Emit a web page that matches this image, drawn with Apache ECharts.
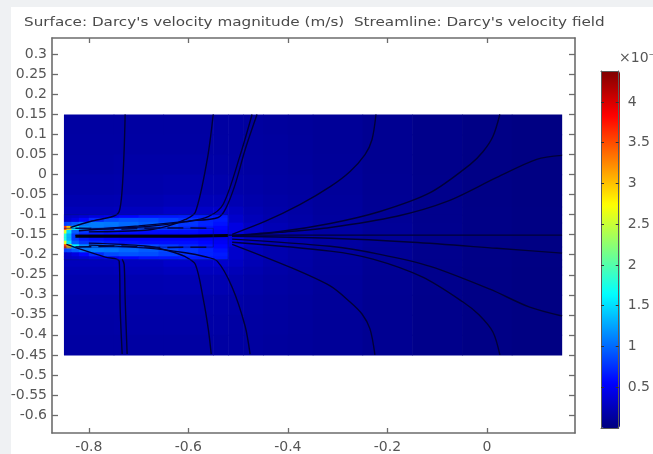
<!DOCTYPE html>
<html>
<head>
<meta charset="utf-8">
<style>
html,body{margin:0;padding:0;width:653px;height:454px;background:#eff1f3;overflow:hidden}
#sheet{position:absolute;left:11px;top:7px;width:642px;height:447px;background:#fff}
#chart{position:absolute;left:0;top:0;width:653px;height:454px;filter:blur(0.65px)}
</style>
<script src="https://cdn.jsdelivr.net/npm/echarts@6/dist/echarts.min.js"></script>
</head>
<body>
<div id="sheet"></div>
<div id="chart"></div>
<script>
const titleText = "Surface: Darcy's velocity magnitude (m/s)  Streamline: Darcy's velocity field";
const xTicks = [-0.8, -0.6, -0.4, -0.2, 0];
const yTicks = [0.3, 0.25, 0.2, 0.15, 0.1, 0.05, 0, -0.05, -0.1, -0.15, -0.2, -0.25, -0.3, -0.35, -0.4, -0.45, -0.5, -0.55, -0.6];
const barTicks = [0.5, 1, 1.5, 2, 2.5, 3, 3.5, 4];
const jetColors = ['#00007f', '#0000ff', '#007fff', '#00ffff', '#7fff7f', '#ffff00', '#ff7f00', '#ff0000', '#7f0000'];

// surface magnitude (x 10^-7 m/s), whole domain
const domainX = [-0.85, -0.75, -0.65, -0.55, -0.52, -0.49, -0.45, -0.40, -0.35, -0.25, -0.15, -0.05, 0.05, 0.15];
const domainY = [0.15, 0.1, 0.05, 0, -0.05, -0.08, -0.10, -0.12, -0.18, -0.2125, -0.23, -0.25, -0.3, -0.35, -0.4, -0.45];
const domainV = [
  [.15,.15,.15,.15,.15,.14,.13,.12,.105,.08,.05,.03,.015],
  [.155,.155,.155,.155,.15,.145,.135,.125,.105,.08,.05,.03,.015],
  [.16,.17,.17,.17,.16,.15,.14,.13,.11,.08,.05,.03,.015],
  [.18,.19,.20,.195,.18,.165,.15,.14,.115,.085,.055,.03,.015],
  [.21,.22,.24,.24,.22,.19,.165,.15,.125,.09,.055,.03,.015],
  [.25,.27,.31,.33,.28,.22,.185,.16,.13,.095,.06,.035,.02],
  [.28,.30,.36,.42,.33,.25,.20,.17,.135,.10,.06,.035,.02],
  [.30,.32,.38,.52,.42,.30,.23,.19,.145,.105,.065,.035,.02],
  [.28,.30,.36,.42,.33,.25,.20,.17,.135,.10,.06,.035,.02],
  [.26,.28,.32,.34,.29,.23,.19,.16,.13,.095,.06,.035,.02],
  [.23,.25,.27,.27,.24,.20,.17,.15,.125,.09,.055,.03,.015],
  [.20,.21,.22,.22,.20,.175,.155,.14,.115,.085,.055,.03,.015],
  [.17,.18,.18,.18,.17,.155,.14,.13,.11,.08,.05,.03,.015],
  [.16,.165,.165,.165,.155,.145,.135,.125,.105,.08,.05,.03,.015],
  [.15,.15,.15,.15,.15,.14,.13,.12,.105,.08,.05,.03,.015]
];
// surface magnitude in the nozzle block
const nozzleX = [-0.85, -0.845, -0.835, -0.82, -0.80, -0.77, -0.74, -0.70, -0.66, -0.62, -0.58, -0.55, -0.52];
const nozzleY = [-0.100, -0.108, -0.118, -0.128, -0.138, -0.147, -0.156, -0.165, -0.174, -0.184, -0.194, -0.204, -0.212];
const nozzleV = [
  [.28,.30,.32,.36,.42,.48,.56,.62,.64,.66,.66,.64],
  [.30,.34,.42,.56,.72,.86,.90,.88,.82,.76,.70,.66],
  [.80,.85,.95,1.05,1.08,1.06,1.0,.94,.86,.78,.70,.62],
  [3.6,3.0,1.6,1.15,1.08,1.02,.96,.88,.80,.72,.64,.56],
  [2.6,1.5,.95,.78,.72,.66,.62,.60,.60,.60,.56,.50],
  [1.8,1.3,.80,.66,.60,.56,.54,.54,.54,.54,.50,.48],
  [1.8,1.3,.80,.66,.60,.56,.54,.54,.54,.54,.50,.48],
  [2.6,1.5,.95,.78,.72,.66,.62,.60,.60,.60,.56,.50],
  [3.6,3.0,1.6,1.15,1.08,1.02,.96,.88,.80,.72,.64,.56],
  [.80,.85,.95,1.05,1.08,1.06,1.0,.94,.86,.78,.70,.62],
  [.30,.34,.42,.56,.72,.86,.90,.88,.82,.76,.70,.66],
  [.28,.30,.32,.36,.42,.48,.56,.62,.64,.66,.66,.64]
];

// streamlines, upper half
const streamA = [[-.727,.15],[-.729,.062],[-.733,-.037],[-.739,-.092],[-.751,-.104],[-.797,-.117],[-.837,-.132]];
const streamB = [[-.550,.15],[-.562,.038],[-.586,-.094],[-.606,-.112],[-.64,-.128],[-.687,-.139],[-.80,-.143]];
const streamC = [[-.472,.15],[-.496,.048],[-.530,-.074],[-.56,-.105],[-.606,-.118],[-.687,-.130],[-.80,-.136]];
const streamD = [[-.462,.15],[-.486,.062],[-.506,-.025],[-.525,-.085],[-.54,-.107],[-.60,-.116],[-.70,-.128],[-.82,-.14]];
const streamE = [[-.223,.15],[-.231,.087],[-.245,.05],[-.275,.008],[-.315,-.03],[-.376,-.075],[-.446,-.117],[-.512,-.149]];
const streamF = [[.026,.15],[.012,.095],[-.008,.057],[-.034,.025],[-.114,-.045],[-.215,-.092],[-.315,-.122],[-.416,-.142],[-.512,-.152]];
const streamG = [[.151,.048],[.100,.038],[.020,-.007],[-.080,-.067],[-.181,-.104],[-.315,-.132],[-.416,-.144],[-.512,-.154]];
const streamH = [[-.827,-.151],[-.512,-.151],[.151,-.151]];
const streamCore = [[-.827,-.154],[-.600,-.154],[-.520,-.152]];
// streamlines, lower half
const streamI = [[.151,-.196],[.020,-.184],[-.149,-.169],[-.315,-.159],[-.512,-.154]];
const streamJ = [[.151,-.353],[.086,-.331],[.006,-.286],[-.114,-.229],[-.215,-.199],[-.315,-.179],[-.512,-.161]];
const streamK = [[.026,-.45],[.012,-.393],[-.016,-.350],[-.048,-.318],[-.129,-.256],[-.229,-.211],[-.315,-.191],[-.512,-.169]];
const streamL = [[-.225,-.45],[-.235,-.385],[-.251,-.348],[-.275,-.318],[-.315,-.278],[-.396,-.231],[-.512,-.174]];
const streamM = [[-.476,-.448],[-.486,-.378],[-.512,-.281],[-.542,-.216],[-.566,-.205],[-.606,-.195],[-.687,-.183],[-.80,-.176]];
const streamN = [[-.554,-.448],[-.560,-.385],[-.570,-.311],[-.586,-.224],[-.606,-.205],[-.64,-.19],[-.687,-.178],[-.80,-.171]];
const streamO = [[-.733,-.448],[-.737,-.335],[-.739,-.216],[-.767,-.206],[-.817,-.186],[-.845,-.174]];
const streamP = [[-.723,-.448],[-.727,-.311],[-.729,-.224],[-.733,-.211]];
// dark streamline dashes inside the nozzle
const innerTop = [[-.827,-.134],[-.74,-.136],[-.66,-.133],[-.55,-.134]];
const innerBottom = [[-.827,-.181],[-.74,-.178],[-.66,-.182],[-.55,-.181]];
// block outlines
const innerBox = [[-.85,-.134],[-.55,-.134],[-.55,-.181],[-.85,-.181]];
const outerBox = [[-.85,-.100],[-.52,-.100],[-.52,-.2125],[-.85,-.2125]];

function cells(xs, ys, vs) {
  const out = [];
  vs.forEach((row, j) => row.forEach((v, i) => out.push([xs[i], xs[i + 1], ys[j], ys[j + 1], v])));
  return out;
}
function renderCell(params, api) {
  const a = api.coord([api.value(0), api.value(2)]);
  const b = api.coord([api.value(1), api.value(3)]);
  return {
    type: 'rect',
    shape: { x: a[0], y: a[1], width: b[0] - a[0] + 0.6, height: b[1] - a[1] + 0.6 },
    style: { fill: api.visual('color') }
  };
}
function surface(data, z) {
  return { type: 'custom', xAxisIndex: 0, yAxisIndex: 0, data, renderItem: renderCell, z, silent: true,
           encode: { x: [0, 1], y: [2, 3] }, animation: false };
}
function stream(data, width, color, smooth, dash) {
  return { type: 'line', xAxisIndex: 0, yAxisIndex: 0, data, showSymbol: false, symbol: 'none', z: 5, silent: true,
           smooth: smooth === undefined ? 0.3 : smooth,
           lineStyle: { color: color || '#000038', width: width || 1.4, type: dash || 'solid' }, animation: false };
}

const axisGrey = '#6c6c6c', textGrey = '#565656';
const font = { fontFamily: 'DejaVu Sans', color: textGrey };
const mainLine = { show: true, onZero: false, lineStyle: { color: axisGrey, width: 1.6 } };

const chart = echarts.init(document.getElementById('chart'));
chart.setOption({
  animation: false,
  backgroundColor: 'transparent',
  grid: [
    { left: 52, top: 38, width: 523, height: 396 },
    { left: 601, top: 71, width: 19, height: 357 }
  ],
  xAxis: [
    { type: 'value', gridIndex: 0, position: 'bottom', min: -0.874, max: 0.177, splitLine: { show: false }, axisLine: mainLine,
      axisTick: { show: true, inside: true, length: 5, customValues: xTicks, lineStyle: { color: axisGrey, width: 1.3 } },
      axisLabel: { ...font, fontSize: 14, margin: 7, customValues: xTicks, showMinLabel: true, showMaxLabel: true } },
    { type: 'value', gridIndex: 0, position: 'top', min: -0.874, max: 0.177, splitLine: { show: false }, axisLine: mainLine,
      axisTick: { show: true, inside: true, length: 5, customValues: xTicks, lineStyle: { color: axisGrey, width: 1.3 } },
      axisLabel: { show: false } },
    { type: 'value', gridIndex: 1, position: 'bottom', min: 0, max: 1, z: 10, splitLine: { show: false },
      axisLine: { show: true, onZero: false, lineStyle: { color: '#5a5a5a', width: 1 } }, axisTick: { show: false }, axisLabel: { show: false } },
    { type: 'value', gridIndex: 1, position: 'top', min: 0, max: 1, z: 10, splitLine: { show: false },
      axisLine: { show: true, onZero: false, lineStyle: { color: '#5a5a5a', width: 1 } }, axisTick: { show: false }, axisLabel: { show: false } }
  ],
  yAxis: [
    { type: 'value', gridIndex: 0, position: 'left', min: -0.645, max: 0.341, splitLine: { show: false }, axisLine: mainLine,
      axisTick: { show: true, inside: true, length: 6, customValues: yTicks, lineStyle: { color: axisGrey, width: 1.3 } },
      axisLabel: { ...font, fontSize: 14, margin: 5, customValues: yTicks, showMinLabel: true, showMaxLabel: true } },
    { type: 'value', gridIndex: 0, position: 'right', min: -0.645, max: 0.341, splitLine: { show: false }, axisLine: mainLine,
      axisTick: { show: true, inside: true, length: 6, customValues: yTicks, lineStyle: { color: axisGrey, width: 1.3 } },
      axisLabel: { show: false } },
    { type: 'value', gridIndex: 1, position: 'left', min: 0, max: 4.38, z: 10, splitLine: { show: false },
      axisLine: { show: true, onZero: false, lineStyle: { color: '#5a5a5a', width: 1 } },
      axisTick: { show: true, inside: true, length: 3, customValues: barTicks, lineStyle: { color: '#333', width: 1 } },
      axisLabel: { show: false } },
    { type: 'value', gridIndex: 1, position: 'right', min: 0, max: 4.38, z: 10, splitLine: { show: false },
      axisLine: { show: true, onZero: false, lineStyle: { color: '#5a5a5a', width: 1 } },
      axisTick: { show: true, inside: true, length: 3, customValues: barTicks, lineStyle: { color: '#333', width: 1 } },
      axisLabel: { ...font, fontSize: 14, margin: 9, customValues: barTicks } }
  ],
  visualMap: {
    type: 'continuous', show: true, seriesIndex: [0, 1], dimension: 4, min: 0, max: 4.38, calculable: false,
    left: 601, top: 71, itemWidth: 19, itemHeight: 357, padding: 0, text: null, showLabel: false, z: 4,
    inRange: { color: jetColors }, textStyle: { color: 'transparent' }
  },
  graphic: [
    { type: 'text', x: 24, y: 16, scaleX: 1.17, silent: true,
      style: { text: titleText, fontFamily: 'DejaVu Sans', fontSize: 13, fill: '#4a4a4a' } },
    { type: 'text', x: 619, y: 51, silent: true,
      style: { text: '×10⁻⁷', fontFamily: 'DejaVu Sans', fontSize: 14, fill: textGrey } }
  ],
  series: [
    surface(cells(domainX, domainY, domainV), 1),
    surface(cells(nozzleX, nozzleY, nozzleV), 2),
    ...[streamA, streamB, streamC, streamD, streamE, streamF, streamG, streamH,
        streamI, streamJ, streamK, streamL, streamM, streamN, streamO, streamP].map(s => stream(s)),
    stream(streamCore, 2.8, '#000010', 0),
    stream(innerTop, 1.5, '#000030', 0, [16, 7]),
    stream(innerBottom, 1.5, '#000030', 0, [16, 7]),
    stream(innerBox, 0.6, '#001080', 0),
    stream(outerBox, 0.6, '#001080', 0)
  ]
});
</script>
</body>
</html>
